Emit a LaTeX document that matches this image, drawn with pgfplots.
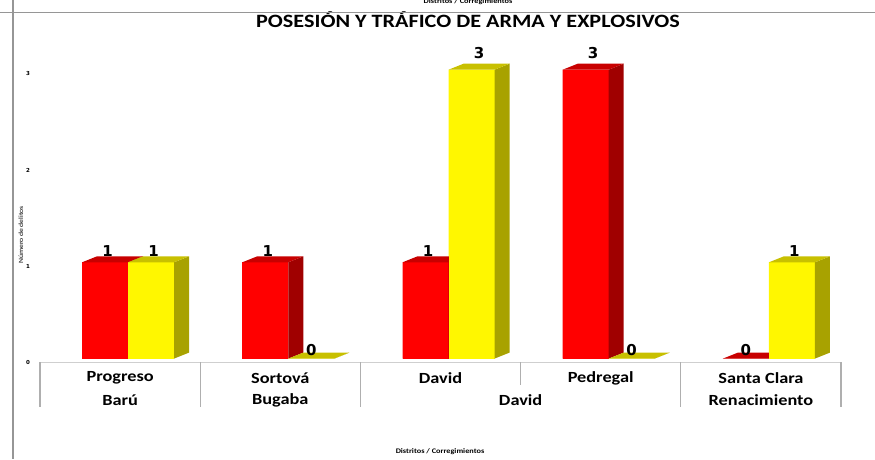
\documentclass[border=0pt]{standalone}
\usepackage{pgfplots}
\pgfplotsset{compat=1.18}
\usepackage{pgfplotstable}
\usepackage{fontspec}
\setmainfont{Carlito}
\newfontfamily\calib{Carlito}[FakeStretch=1.18]
\newfontfamily\dvs{DejaVu Sans}

\definecolor{redF}{RGB}{255,0,0}
\definecolor{redS}{RGB}{160,0,0}
\definecolor{redT}{RGB}{200,0,0}
\definecolor{yelF}{RGB}{255,247,0}
\definecolor{yelS}{RGB}{168,162,0}
\definecolor{yelT}{RGB}{200,192,0}
\definecolor{frame}{RGB}{150,150,150}
\definecolor{sep}{RGB}{175,175,175}

% 1 category = 160.2pt, 1 unit of y = 96.3pt, bars 46pt wide, depth 15pt x 6pt
\pgfdeclareplotmark{barfaces}{%
  \pgfpathrectanglecorners{\pgfpoint{\bs-23pt}{0pt}}{\pgfpoint{\bs+23pt}{-\hv*96.3pt}}%
  \pgfsetfillcolor{\frontcol}\pgfusepathqfill
  \pgfpathmoveto{\pgfpoint{\bs+23pt}{0pt}}%
  \pgfpathlineto{\pgfpoint{\bs+38pt}{6pt}}%
  \pgfpathlineto{\pgfpoint{\bs+38pt}{6pt-\hv*96.3pt}}%
  \pgfpathlineto{\pgfpoint{\bs+23pt}{-\hv*96.3pt}}%
  \pgfpathclose
  \pgfsetfillcolor{\sidecol}\pgfusepathqfill
  \pgfpathmoveto{\pgfpoint{\bs-23pt}{0pt}}%
  \pgfpathlineto{\pgfpoint{\bs-8pt}{6pt}}%
  \pgfpathlineto{\pgfpoint{\bs+38pt}{6pt}}%
  \pgfpathlineto{\pgfpoint{\bs+23pt}{0pt}}%
  \pgfpathclose
  \pgfsetfillcolor{\topcol}\pgfusepathqfill
}

% columns: a = red series, b = yellow series
\pgfplotstableread{
i a b
0 1 1
1 1 0
2 1 3
3 3 0
4 0 1
}\datos

\begin{document}
\begin{tikzpicture}
\begin{axis}[
  x=160.2pt, y=96.3pt,
  xmin=-0.5, xmax=4.5, ymin=0, ymax=3.3,
  axis line style={draw=none},
  major tick length=0pt,
  xtick=\empty,
  ytick={0,1,2,3},
  /pgf/number format/assume math mode=true,
  yticklabel style={font=\dvs\bfseries\fontsize{5.5}{6}\selectfont, anchor=center, xshift=-12pt, yshift=-4pt},
  clip=false,
  nodes near coords style={font=\dvs\bfseries\fontsize{15}{17}\selectfont, anchor=south, inner sep=0pt,
    yshift=3pt+\hv*2.6pt},
]
  % red series
  \addplot[ybar, bar width=46pt, bar shift=-15pt, fill=redF, draw=none] table[x=i, y=a] {\datos};
  \addplot[only marks, mark=barfaces,
    /utils/exec={\def\bs{-15pt}\def\frontcol{redF}\def\sidecol{redS}\def\topcol{redT}},
    visualization depends on={\thisrow{a} \as \hv},
    nodes near coords, every node near coord/.append style={xshift=-15pt+\hv*2.5pt}] table[x=i, y=a] {\datos};
  % yellow series
  \addplot[ybar, bar width=46pt, bar shift=31pt, fill=yelF, draw=none] table[x=i, y=b] {\datos};
  \addplot[only marks, mark=barfaces,
    /utils/exec={\def\bs{31pt}\def\frontcol{yelF}\def\sidecol{yelS}\def\topcol{yelT}},
    visualization depends on={\thisrow{b} \as \hv},
    nodes near coords, every node near coord/.append style={xshift=31pt+\hv*2.5pt}] table[x=i, y=b] {\datos};

  % category boxes
  \draw[sep!60, line width=0.8pt] (axis cs:-0.5,-0.0353) -- (axis cs:4.5,-0.0353);
  \pgfplotsinvokeforeach{-0.5,0.5,1.5,3.5,4.5}{
    \draw[sep, line width=1.3pt] (axis cs:#1,-0.0353) -- (axis cs:#1,-0.5026);
  }
  \draw[sep, line width=1.3pt] (axis cs:2.5,-0.0353) -- (axis cs:2.5,-0.274);
  \begin{scope}[every node/.style={font=\calib\bfseries\fontsize{15.5}{17}\selectfont}]
    \node at (axis cs:0,-0.2015) {Progreso};
    \node at (axis cs:1,-0.2015) {Sortová};
    \node at (axis cs:2,-0.2015) {David};
    \node at (axis cs:3,-0.2015) {Pedregal};
    \node at (axis cs:4,-0.2015) {Santa Clara};
    \node at (axis cs:0,-0.430) {Barú};
    \node at (axis cs:1,-0.430) {Bugaba};
    \node at (axis cs:2.5,-0.430) {David};
    \node at (axis cs:4,-0.430) {Renacimiento};
  \end{scope}

  % titles and frame
  \node[font=\calib\bfseries\fontsize{18.8}{21}\selectfont] at (axis cs:2.1717,3.516) {POSESIÓN Y TRÁFICO DE ARMA Y EXPLOSIVOS};
  \node[font=\calib\bfseries\fontsize{7}{8}\selectfont] at (axis cs:2.1717,3.703) {Distritos / Corregimientos};
  \node[font=\calib\bfseries\fontsize{7}{8}\selectfont] at (axis cs:1.997,-0.970) {Distritos / Corregimientos};
  \node[font=\calib\fontsize{6.5}{7}\selectfont, rotate=90] at (axis cs:-0.6186,1.2835) {Número de delitos};
  \draw[frame, line width=1.8pt] (axis cs:-0.7497,3.595) -- (axis cs:4.7122,3.595);
  \draw[frame, line width=1.8pt] (axis cs:-0.6685,3.7238) -- (axis cs:-0.6685,-1.0426);
  \coordinate (bbBL) at (axis cs:-0.7497,-1.0426);
  \coordinate (bbTR) at (axis cs:4.7122,3.7238);
\end{axis}
\pgfresetboundingbox
\path[use as bounding box] (bbBL) rectangle (bbTR);
\end{tikzpicture}
\end{document}
